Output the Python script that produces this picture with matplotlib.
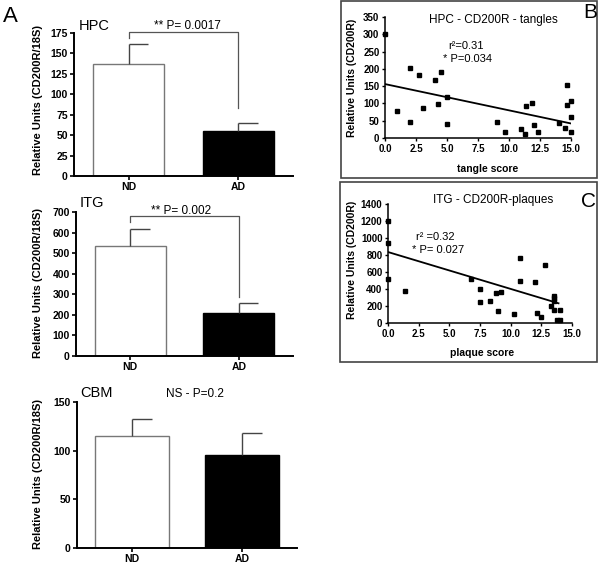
import matplotlib
matplotlib.use("Agg")
import matplotlib.pyplot as plt
from matplotlib.patches import Rectangle

plt.rcParams['font.family'] = ['Liberation Sans', 'DejaVu Sans']

groups = ["ND", "AD"]

# panel A bar values (mean, upper error)
hpc_means = [137, 55]
hpc_err = [24, 10]
itg_means = [535, 210]
itg_err = [82, 50]
cbm_means = [115, 96]
cbm_err = [18, 22]

# significance brackets: (top, left end, right end)
hpc_bracket = (176, 169, 83)
itg_bracket = (682, 650, 287)

# panel B: tangle score vs CD200R (HPC)
tangle_x = [0.0, 1.0, 2.0, 2.0, 2.75, 3.1, 4.0, 4.3, 4.5, 5.0, 5.0, 9.0, 9.65,
            11.0, 11.25, 11.4, 11.85, 12.0, 12.3, 14.0, 14.5, 14.7, 14.7,
            15.0, 15.0, 15.0]
tangle_y = [300, 77, 202, 45, 183, 86, 169, 99, 191, 118, 40, 46, 16,
            27, 11, 94, 100, 37, 18, 44, 28, 153, 96, 107, 61, 17]
tangle_fit = (156, -7.6)

# panel C: plaque score vs CD200R (ITG)
plaque_x = [0.0, 0.0, 0.0, 1.4, 6.8, 7.5, 7.5, 8.3, 8.8, 9.25, 9.0, 10.25,
            10.75, 10.75, 12.0, 12.15, 12.45, 12.8, 13.25, 13.5, 13.5, 13.5,
            13.5, 13.75, 14.0, 14.0]
plaque_y = [1200, 940, 520, 375, 520, 404, 252, 262, 349, 361, 145, 102,
            765, 494, 478, 118, 67, 680, 195, 312, 290, 262, 148, 39, 39, 149]
plaque_fit = (835, -43.4)
plaque_fit_xmax = 13.9

W, H = 600, 563


def px_rect(x0, y0, x1, y1):
    return [x0 / W, 1 - y1 / H, (x1 - x0) / W, (y1 - y0) / H]


fig = plt.figure(figsize=(6, 5.63), dpi=100)


def bar_panel(rect, means, errs, ymax, step, title, title_xy, stat, stat_xy,
              ylab_xy, bracket=None, width=0.65):
    ax = fig.add_axes(rect)
    xs = list(range(len(groups)))
    ax.bar(xs, means, width=width, color=["white", "black"],
           edgecolor=["#777777", "black"], linewidth=1.0, zorder=2)
    ax.vlines(xs, means, [m + e for m, e in zip(means, errs)],
              color="#444444", linewidth=1.0, zorder=3)
    ax.hlines([m + e for m, e in zip(means, errs)], xs,
              [x + 0.18 for x in xs], color="#444444", linewidth=1.0, zorder=3)
    ax.set_xlim(-0.5, 1.5)
    ax.set_ylim(0, ymax)
    ax.set_yticks(range(0, ymax + 1, step))
    ax.set_xticks(xs)
    ax.set_xticklabels(groups, fontweight="bold", fontsize=7.5)
    for lab in ax.get_yticklabels():
        lab.set_fontweight("bold")
        lab.set_fontsize(7.5)
    for s in ["top", "right"]:
        ax.spines[s].set_visible(False)
    for s in ["left", "bottom"]:
        ax.spines[s].set_linewidth(1.4)
    ax.tick_params(axis="both", direction="out", length=3, width=1.2, pad=1.5)
    ax.set_ylabel("Relative Units (CD200R/18S)", fontsize=8, fontweight="bold")
    ax.yaxis.set_label_coords(*ylab_xy)
    ax.text(title_xy[0], title_xy[1], title, transform=ax.transAxes,
            fontsize=10.5, ha="left", va="center")
    ax.text(stat_xy[0], stat_xy[1], stat, transform=ax.transAxes,
            fontsize=8.5, ha="center", va="center")
    if bracket is not None:
        top, left_end, right_end = bracket
        ax.plot([0, 0, 1, 1], [left_end, top, top, right_end],
                color="#555555", linewidth=0.9, clip_on=False, zorder=4)
    return ax


bar_panel(px_rect(74, 33, 293, 176), hpc_means, hpc_err, 175, 25, "HPC",
          (0.023, 1.05), "** P= 0.0017", (0.52, 1.05), (-0.142, 0.53),
          bracket=hpc_bracket)
bar_panel(px_rect(76, 212, 293, 356), itg_means, itg_err, 700, 100, "ITG",
          (0.018, 1.062), "** P= 0.002", (0.484, 1.01), (-0.152, 0.51),
          bracket=itg_bracket)
bar_panel(px_rect(77, 402, 297, 548), cbm_means, cbm_err, 150, 50, "CBM",
          (0.014, 1.062), "NS - P=0.2", (0.535, 1.055), (-0.155, 0.51),
          width=0.67)


def scatter_panel(rect, x, y, fit, fit_xmax, ymax, ystep, title, title_xy,
                  r2, r2_xy, pval, p_xy, xlabel, xlab_xy, ylab_xy):
    ax = fig.add_axes(rect)
    ax.plot(x, y, "s", color="black", markersize=3.2, zorder=3, clip_on=False)
    b, m = fit
    ax.plot([0, fit_xmax], [b, b + m * fit_xmax], color="black",
            linewidth=1.3, zorder=2)
    ax.set_xlim(0, 15)
    ax.set_ylim(0, ymax)
    ax.set_xticks([0, 2.5, 5, 7.5, 10, 12.5, 15])
    ax.set_xticklabels(["0.0", "2.5", "5.0", "7.5", "10.0", "12.5", "15.0"])
    ax.set_yticks(range(0, ymax + 1, ystep))
    for lab in ax.get_xticklabels() + ax.get_yticklabels():
        lab.set_fontweight("bold")
        lab.set_fontsize(7)
    for s in ["top", "right"]:
        ax.spines[s].set_visible(False)
    for s in ["left", "bottom"]:
        ax.spines[s].set_linewidth(1.1)
    ax.tick_params(axis="both", direction="out", length=2.5, width=1.0, pad=1.5)
    ax.set_xlabel(xlabel, fontsize=7.5, fontweight="bold")
    ax.xaxis.set_label_coords(*xlab_xy)
    ax.set_ylabel("Relative Units (CD200R)", fontsize=7.5, fontweight="bold")
    ax.yaxis.set_label_coords(*ylab_xy)
    ax.text(title_xy[0], title_xy[1], title, transform=ax.transAxes,
            fontsize=8.5, ha="center", va="center")
    ax.text(r2_xy[0], r2_xy[1], r2, transform=ax.transAxes,
            fontsize=8, ha="left", va="center")
    ax.text(p_xy[0], p_xy[1], pval, transform=ax.transAxes,
            fontsize=8, ha="left", va="center")
    return ax


scatter_panel(px_rect(385, 17, 571, 138), tangle_x, tangle_y, tangle_fit, 15,
              350, 50, "HPC - CD200R - tangles", (0.58, 0.975),
              "r²=0.31", (0.339, 0.76), "* P=0.034", (0.312, 0.655),
              "tangle score", (0.55, -0.215), (-0.15, 0.5))
scatter_panel(px_rect(388, 204, 572, 323), plaque_x, plaque_y, plaque_fit,
              plaque_fit_xmax, 1400, 200, "ITG - CD200R-plaques",
              (0.571, 1.034), "r² =0.32", (0.152, 0.72),
              "* P= 0.027", (0.13, 0.616), "plaque score", (0.51, -0.21),
              (-0.168, 0.53))

# frames around B and C
for x0, y0, x1, y1 in [(341, 1, 597, 178), (340, 182, 597, 362)]:
    fig.patches.append(Rectangle((x0 / W, 1 - y1 / H), (x1 - x0) / W,
                                 (y1 - y0) / H, transform=fig.transFigure,
                                 fill=False, edgecolor="#444444",
                                 linewidth=1.2))

fig.text(3 / W, 1 - 6 / H, "A", fontsize=16, ha="left", va="top")
fig.text(590 / W, 1 - 12 / H, "B", fontsize=15, ha="center", va="center")
fig.text(588 / W, 1 - 202 / H, "C", fontsize=15, ha="center", va="center")

fig.savefig("out.png", dpi=100)
